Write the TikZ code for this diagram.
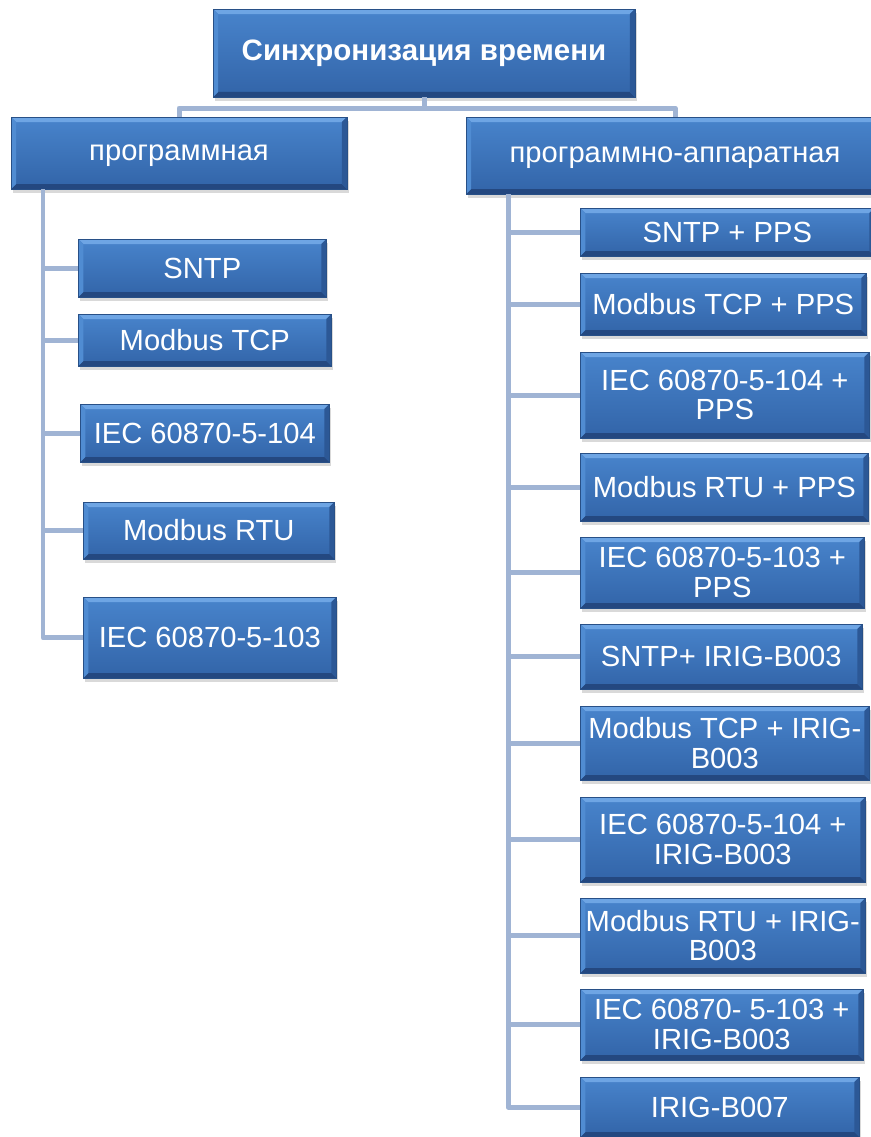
\documentclass[tikz,border=0pt]{standalone}
\usepackage{fontspec}
\setmainfont{Liberation Sans}
\usetikzlibrary{shadows}

\definecolor{boxtop}{RGB}{72,132,204}
\definecolor{boxbot}{RGB}{50,100,168}
\definecolor{boxline}{RGB}{40,80,135}
\definecolor{bevlight}{RGB}{110,165,228}
\definecolor{bevdark}{RGB}{36,72,128}
\definecolor{bevleft}{RGB}{80,140,210}
\definecolor{bevright}{RGB}{44,88,150}
\definecolor{linkc}{RGB}{160,180,212}

\newcommand\bevw{0.1cm}

\tikzset{
  box/.style={
    draw=boxline, line width=0.4pt,
    top color=boxtop, bottom color=boxbot,
    text=white, align=center, inner sep=0pt,
    font=\fontsize{16.6}{17}\selectfont,
    drop shadow={opacity=0.3, shadow xshift=0.04cm, shadow yshift=-0.08cm},
    path picture={
      \coordinate (bnw) at (path picture bounding box.north west);
      \coordinate (bne) at (path picture bounding box.north east);
      \coordinate (bsw) at (path picture bounding box.south west);
      \coordinate (bse) at (path picture bounding box.south east);
      \fill[bevlight] (bnw) -- (bne) -- ([xshift=-\bevw,yshift=-\bevw]bne) -- ([xshift=\bevw,yshift=-\bevw]bnw) -- cycle;
      \fill[bevdark] (bsw) -- (bse) -- ([xshift=-\bevw,yshift=\bevw]bse) -- ([xshift=\bevw,yshift=\bevw]bsw) -- cycle;
      \fill[bevleft] (bnw) -- ([xshift=\bevw,yshift=-\bevw]bnw) -- ([xshift=\bevw,yshift=\bevw]bsw) -- (bsw) -- cycle;
      \fill[bevright] (bne) -- ([xshift=-\bevw,yshift=-\bevw]bne) -- ([xshift=-\bevw,yshift=\bevw]bse) -- (bse) -- cycle;
    }},
  link/.style={draw=linkc, line width=0.1cm, line join=round}
}

\begin{document}
\begin{tikzpicture}[x=0.02cm, y=-0.02cm]
  \useasboundingbox (0,0) rectangle (871,1137);

  % top level
  \node[box, minimum width=8.44cm, minimum height=1.76cm, font=\fontsize{16.8}{17}\selectfont\bfseries] (sync) at (424,53) {Синхронизация времени};
  \node[box, minimum width=6.72cm, minimum height=1.44cm, text height=11.5pt, text depth=3.5pt] (soft) at (179,153) {программная};
  \node[box, minimum width=8.36cm, minimum height=1.54cm, text height=11.5pt, text depth=3.5pt] (hard) at (675,155.5) {программно-аппаратная};

  % software branch
  \node[box, anchor=west, minimum width=4.96cm, minimum height=1.16cm] (s1) at (78,268) {SNTP};
  \node[box, anchor=west, minimum width=5.06cm, minimum height=1.04cm] (s2) at (78,340) {Modbus TCP};
  \node[box, anchor=west, minimum width=4.98cm, minimum height=1.16cm] (s3) at (80,433) {IEC 60870-5-104};
  \node[box, anchor=west, minimum width=5.02cm, minimum height=1.14cm] (s4) at (83,530.5) {Modbus RTU};
  \node[box, anchor=west, minimum width=5.06cm, minimum height=1.62cm] (s5) at (83,637.5) {IEC 60870-5-103};

  % hardware branch
  \node[box, anchor=west, minimum width=5.88cm, minimum height=0.96cm] (h1) at (580,232) {SNTP + PPS};
  \node[box, anchor=west, minimum width=5.72cm, minimum height=1.24cm] (h2) at (580,304) {Modbus TCP + PPS};
  \node[box, anchor=west, minimum width=5.78cm, minimum height=1.72cm] (h3) at (580,395) {IEC 60870-5-104 +\\PPS};
  \node[box, anchor=west, minimum width=5.76cm, minimum height=1.36cm] (h4) at (580,487) {Modbus RTU + PPS};
  \node[box, anchor=west, minimum width=5.68cm, minimum height=1.42cm] (h5) at (580,572.5) {IEC 60870-5-103 +\\PPS};
  \node[box, anchor=west, minimum width=5.64cm, minimum height=1.30cm] (h6) at (580,656.5) {SNTP+ IRIG-B003};
  \node[box, anchor=west, minimum width=5.78cm, minimum height=1.48cm] (h7) at (580,743) {Modbus TCP + IRIG-\\B003};
  \node[box, anchor=west, minimum width=5.70cm, minimum height=1.70cm] (h8) at (580,839.5) {IEC 60870-5-104 +\\IRIG-B003};
  \node[box, anchor=west, minimum width=5.70cm, minimum height=1.50cm] (h9) at (580,935.5) {Modbus RTU + IRIG-\\B003};
  \node[box, anchor=west, minimum width=5.66cm, minimum height=1.42cm] (h10) at (580,1024.5) {IEC 60870- 5-103 +\\IRIG-B003};
  \node[box, anchor=west, minimum width=5.58cm, minimum height=1.20cm] (h11) at (580,1107) {IRIG-B007};

  % connectors
  \coordinate (bar) at (424,108);
  \coordinate (stop) at (43,189);
  \coordinate (htop) at (508,194);
  \draw[link] (sync.south) -- (bar);
  \draw[link] (soft.north) |- (bar) -| (hard.north);
  \foreach \c in {s1,s2,s3,s4,s5}
    \draw[link] (stop) |- (\c.west);
  \foreach \c in {h1,h2,h3,h4,h5,h6,h7,h8,h9,h10,h11}
    \draw[link] (htop) |- (\c.west);
\end{tikzpicture}
\end{document}
